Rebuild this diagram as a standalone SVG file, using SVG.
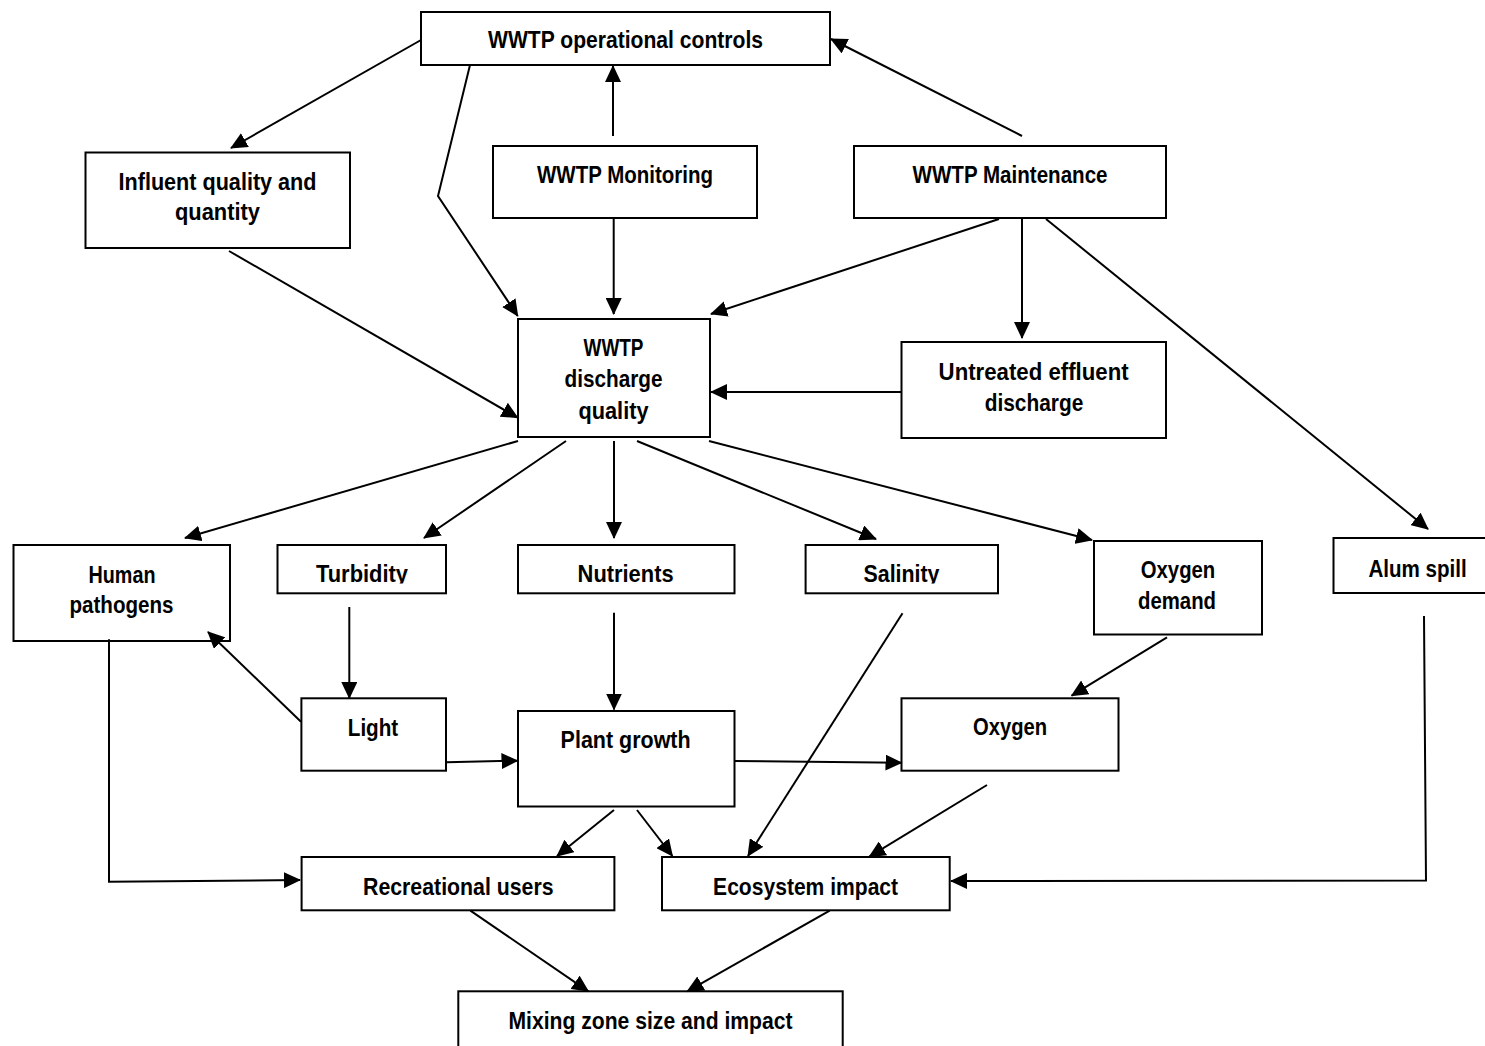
<svg xmlns="http://www.w3.org/2000/svg" width="1485" height="1046" viewBox="0 0 1485 1046">
<style>
.box{fill:#fff;stroke:#000;stroke-width:2}
.t{font-family:"Liberation Sans",Arial,sans-serif;font-weight:bold;font-size:24px;fill:#000;text-anchor:middle}
.c{fill:none;stroke:#000;stroke-width:2;marker-end:url(#ah)}
</style>
<defs>
<marker id="ah" markerUnits="userSpaceOnUse" markerWidth="18" markerHeight="16" refX="16" refY="8" orient="auto" viewBox="0 0 18 16">
<path d="M0,0 L17,8 L0,16 Z" fill="#000"/>
</marker>
<clipPath id="clipTurb"><rect x="278" y="546" width="168" height="37.5"/></clipPath>
<clipPath id="clipSal"><rect x="806" y="546" width="192" height="37.5"/></clipPath>
</defs>
<rect width="1485" height="1046" fill="#fff"/>

<g id="ops">
<rect class="box" x="421" y="12" width="409" height="53"/>
<text class="t" x="625.5" y="48" textLength="275" lengthAdjust="spacingAndGlyphs">WWTP operational controls</text>
</g>
<g id="influent">
<rect class="box" x="85.5" y="152.5" width="264.5" height="95.5"/>
<text class="t" x="217.5" y="190" textLength="198" lengthAdjust="spacingAndGlyphs">Influent quality and</text>
<text class="t" x="217.5" y="220" textLength="85" lengthAdjust="spacingAndGlyphs">quantity</text>
</g>
<g id="monitoring">
<rect class="box" x="493" y="146" width="264" height="72"/>
<text class="t" x="625" y="183" textLength="176" lengthAdjust="spacingAndGlyphs">WWTP Monitoring</text>
</g>
<g id="maintenance">
<rect class="box" x="854" y="146" width="312" height="72"/>
<text class="t" x="1010" y="183" textLength="195" lengthAdjust="spacingAndGlyphs">WWTP Maintenance</text>
</g>
<g id="discharge">
<rect class="box" x="518" y="319" width="192" height="118"/>
<text class="t" x="613.5" y="356" textLength="60" lengthAdjust="spacingAndGlyphs">WWTP</text>
<text class="t" x="613.5" y="387" textLength="98" lengthAdjust="spacingAndGlyphs">discharge</text>
<text class="t" x="613.5" y="418.5" textLength="70" lengthAdjust="spacingAndGlyphs">quality</text>
</g>
<g id="untreated">
<rect class="box" x="901.5" y="342" width="264.5" height="96"/>
<text class="t" x="1033.6" y="380" textLength="190" lengthAdjust="spacingAndGlyphs">Untreated effluent</text>
<text class="t" x="1034" y="410.5" textLength="98.5" lengthAdjust="spacingAndGlyphs">discharge</text>
</g>
<g id="human">
<rect class="box" x="13.5" y="545" width="216.5" height="96"/>
<text class="t" x="122" y="583" textLength="67" lengthAdjust="spacingAndGlyphs">Human</text>
<text class="t" x="121.5" y="613" textLength="104" lengthAdjust="spacingAndGlyphs">pathogens</text>
</g>
<g id="turbidity">
<rect class="box" x="277.5" y="545" width="168.5" height="48.3"/>
<text class="t" x="362" y="582" textLength="92" lengthAdjust="spacingAndGlyphs" clip-path="url(#clipTurb)">Turbidity</text>
</g>
<g id="nutrients">
<rect class="box" x="518" y="545" width="216.5" height="48.3"/>
<text class="t" x="625.6" y="582" textLength="96" lengthAdjust="spacingAndGlyphs">Nutrients</text>
</g>
<g id="salinity">
<rect class="box" x="805.6" y="545" width="192.4" height="48.3"/>
<text class="t" x="901.5" y="582" textLength="76" lengthAdjust="spacingAndGlyphs" clip-path="url(#clipSal)">Salinity</text>
</g>
<g id="oxygen-demand">
<rect class="box" x="1094" y="541" width="168" height="93.5"/>
<text class="t" x="1178" y="578" textLength="74.5" lengthAdjust="spacingAndGlyphs">Oxygen</text>
<text class="t" x="1177" y="609" textLength="78" lengthAdjust="spacingAndGlyphs">demand</text>
</g>
<g id="alum">
<rect class="box" x="1333.5" y="538" width="170" height="55"/>
<text class="t" x="1417.6" y="576.5" textLength="98.3" lengthAdjust="spacingAndGlyphs">Alum spill</text>
</g>
<g id="light">
<rect class="box" x="301.4" y="698.3" width="144.6" height="72.4"/>
<text class="t" x="373" y="736" textLength="50.5" lengthAdjust="spacingAndGlyphs">Light</text>
</g>
<g id="plant">
<rect class="box" x="518" y="711" width="216.5" height="95.5"/>
<text class="t" x="625.6" y="748" textLength="130" lengthAdjust="spacingAndGlyphs">Plant growth</text>
</g>
<g id="oxygen">
<rect class="box" x="901.5" y="698.3" width="217" height="72.4"/>
<text class="t" x="1010" y="734.5" textLength="74" lengthAdjust="spacingAndGlyphs">Oxygen</text>
</g>
<g id="recreational">
<rect class="box" x="301.6" y="857" width="312.8" height="53.3"/>
<text class="t" x="458.3" y="894.5" textLength="190.6" lengthAdjust="spacingAndGlyphs">Recreational users</text>
</g>
<g id="ecosystem">
<rect class="box" x="662" y="857" width="287.7" height="53.3"/>
<text class="t" x="805.6" y="894.5" textLength="185" lengthAdjust="spacingAndGlyphs">Ecosystem impact</text>
</g>
<g id="mixing">
<rect class="box" x="458.3" y="991.3" width="384.4" height="70"/>
<text class="t" x="650.5" y="1029" textLength="284" lengthAdjust="spacingAndGlyphs">Mixing zone size and impact</text>
</g>

<g id="connectors">
<path class="c" d="M421,40 L231,148"/>
<path class="c" d="M470,65 L438,196 L517.7,316"/>
<path class="c" d="M613,136 L613,66"/>
<path class="c" d="M1022,136 L831,39"/>
<path class="c" d="M613.7,218 L613.7,314"/>
<path class="c" d="M999,219 L711,314"/>
<path class="c" d="M1022,218 L1022,338"/>
<path class="c" d="M1046,219 L1428,529"/>
<path class="c" d="M229,251 L517.7,417.7"/>
<path class="c" d="M901,392 L711,392"/>
<path class="c" d="M518,441 L185,538"/>
<path class="c" d="M566,441 L424,538"/>
<path class="c" d="M614,441 L614,538"/>
<path class="c" d="M637,441 L876,539"/>
<path class="c" d="M709,441 L1092,540"/>
<path class="c" d="M349.3,607 L349.3,698"/>
<path class="c" d="M614,612.7 L614,709.5"/>
<path class="c" d="M301,721.7 L208,632"/>
<path class="c" d="M446.4,762.3 L517.5,760.7"/>
<path class="c" d="M734,761 L901.5,762.7"/>
<path class="c" d="M1167,637.3 L1071.6,695.7"/>
<path class="c" d="M902.5,613.3 L748,856"/>
<path class="c" d="M614,810 L557,856"/>
<path class="c" d="M637,810 L672.4,856"/>
<path class="c" d="M987,785 L869.3,856.7"/>
<path class="c" d="M109,639.3 L109,881.7 L300,880"/>
<path class="c" d="M1424,616 L1426,880.5 L951,881"/>
<path class="c" d="M470.4,910.7 L588.3,991.3"/>
<path class="c" d="M829.7,910.7 L687.3,991.3"/>
</g>
</svg>
